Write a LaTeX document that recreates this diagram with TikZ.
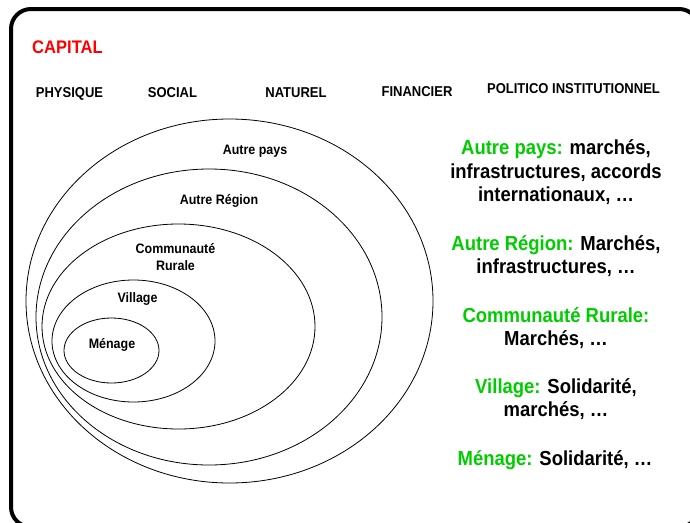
\documentclass[tikz,border=0pt]{standalone}
\usepackage{fontspec}
\setmainfont[FakeStretch=0.91]{Liberation Sans}
\usepackage{xcolor}
\usepackage{tikz}

\definecolor{vert}{RGB}{0,204,0}

\begin{document}
\begin{tikzpicture}[x=1pt,y=-1pt,
                    titre/.style={font=\fontsize{14.3}{15}\selectfont\bfseries, anchor=base},
                    zone/.style={font=\fontsize{13.7}{17.5}\selectfont\bfseries, align=center},
                    legende/.style={font=\fontsize{20.3}{23.5}\selectfont\bfseries, align=center},
                    cercle/.style={draw=black, line width=0.8pt}]
                    \useasboundingbox (0,0) rectangle (690,522);
                    \draw[line width=4pt, rounded corners=20pt] (11,9) rectangle (699,527);

                    \node[text=red, font=\fontsize{18.2}{20}\selectfont\bfseries, anchor=base] (capital) at (67.5,53) {CAPITAL};
                    \node[titre] (physique) at (69.5,97) {PHYSIQUE};
                    \node[titre] (social) at (172.5,97) {SOCIAL};
                    \node[titre] (naturel) at (296,97) {NATUREL};
                    \node[titre] (financier) at (417,96.5) {FINANCIER};
                    \node[titre] (politico) at (573.5,93.5) {POLITICO INSTITUTIONNEL};

                    \draw[cercle] (229.5,301) ellipse [x radius=203.5, y radius=182];
                    \draw[cercle] (209,317) ellipse [x radius=173, y radius=148];
                    \draw[cercle] (178.5,326.5) ellipse [x radius=136.5, y radius=102.5];
                    \draw[cercle] (133.5,341) ellipse [x radius=81.5, y radius=61];
                    \draw[cercle] (111.5,350.5) ellipse [x radius=47.5, y radius=32.5];

                    \node[zone] (pays) at (255,151) {Autre pays};
                    \node[zone] (region) at (219,201) {Autre Région};
                    \node[zone] (communaute) at (175.5,257) {Communauté\\Rurale};
                    \node[zone] (village) at (137.5,299) {Village};
                    \node[zone] (menage) at (112,345) {Ménage};

                    \node[legende] (lpays) at (556,172.5) {\textcolor{vert}{Autre pays:} marchés,\\infrastructures, accords\\internationaux, …};
                    \node[legende] (lregion) at (556,256) {\textcolor{vert}{Autre Région:} Marchés,\\infrastructures, …};
                    \node[legende] (lcommunaute) at (556,328) {\textcolor{vert}{Communauté Rurale:}\\Marchés, …};
                    \node[legende] (lvillage) at (556,399) {\textcolor{vert}{Village:} Solidarité,\\marchés, …};
                    \node[legende] (lmenage) at (555,460) {\textcolor{vert}{Ménage:} Solidarité, …};
                 \end{tikzpicture}
\end{document}
